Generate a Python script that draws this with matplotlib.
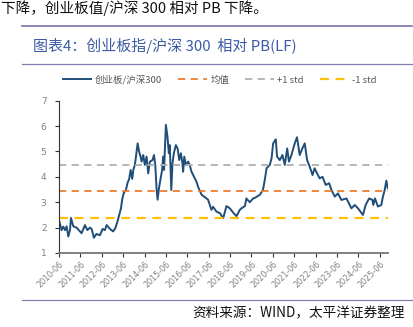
import matplotlib
matplotlib.use("Agg")
import matplotlib.pyplot as plt
import numpy as np
import pandas as pd

plt.rcParams['font.family'] = ['Noto Sans CJK SC', 'DejaVu Sans']

# 创业板指/沪深300 相对PB(LF)
dates = ['2010-06-01', '2010-07-15', '2010-08-12', '2010-09-12', '2010-10-10', '2010-11-06',
         '2010-12-06', '2010-12-22', '2011-02-01', '2011-03-28', '2011-05-25', '2011-06-22',
         '2011-08-18', '2011-09-28', '2011-11-12', '2011-12-10', '2012-01-18', '2012-03-01',
         '2012-05-01', '2012-06-15', '2012-07-25', '2012-08-22', '2012-10-18', '2012-12-10',
         '2013-01-12', '2013-02-15', '2013-03-18', '2013-04-25', '2013-05-15', '2013-06-12',
         '2013-07-18', '2013-08-15', '2013-09-12', '2013-10-06', '2013-11-03', '2013-11-21',
         '2013-12-18', '2014-01-06', '2014-02-03', '2014-03-01', '2014-03-25', '2014-04-12',
         '2014-05-10', '2014-06-06', '2014-07-06', '2014-08-03', '2014-09-01', '2014-10-15',
         '2014-11-10', '2014-12-01', '2014-12-25', '2015-01-10', '2015-02-06', '2015-03-01',
         '2015-03-28', '2015-04-15', '2015-05-01', '2015-06-01', '2015-06-28', '2015-07-21',
         '2015-08-06', '2015-09-01', '2015-09-21', '2015-10-15', '2015-11-18', '2015-12-18',
         '2016-01-15', '2016-02-12', '2016-03-10', '2016-03-21', '2016-04-10', '2016-05-06',
         '2016-06-15', '2016-07-12', '2016-08-12', '2016-10-10', '2016-11-06', '2016-12-03',
         '2017-02-01', '2017-03-28', '2017-05-21', '2017-07-18', '2017-08-15', '2017-10-12',
         '2017-12-10', '2018-02-03', '2018-04-01', '2018-05-28', '2018-07-21', '2018-09-18',
         '2018-11-15', '2018-12-12', '2019-02-10', '2019-03-06', '2019-05-03', '2019-07-01',
         '2019-07-28', '2019-10-21', '2019-12-15', '2020-01-15', '2020-02-15', '2020-04-10',
         '2020-05-10', '2020-06-06', '2020-07-21', '2020-08-12', '2020-09-28', '2020-11-12',
         '2020-12-22', '2021-02-01', '2021-03-03', '2021-04-15', '2021-06-10', '2021-07-18',
         '2021-09-03', '2021-10-18', '2021-11-28', '2022-01-06', '2022-02-21', '2022-04-10',
         '2022-05-15', '2022-06-25', '2022-08-10', '2022-09-28', '2022-11-21', '2023-01-18',
         '2023-02-28', '2023-04-25', '2023-06-18', '2023-08-15', '2023-11-10', '2024-01-06',
         '2024-02-03', '2024-04-01', '2024-05-25', '2024-08-18', '2024-10-03', '2024-12-01',
         '2025-01-28', '2025-02-10', '2025-03-12', '2025-05-01', '2025-06-28', '2025-07-25',
         '2025-08-25', '2025-09-21', '2025-10-18']
ratio = [2.30, 1.90, 2.04, 1.90, 2.05, 1.65,
         1.90, 2.38, 2.05, 2.00, 1.85, 1.78,
         2.10, 1.90, 2.00, 1.95, 1.60, 1.75,
         1.70, 1.95, 1.90, 2.10, 1.95, 1.85,
         1.95, 2.17, 2.43, 2.77, 3.10, 3.37,
         3.48, 3.76, 3.92, 4.27, 3.92, 4.27,
         4.47, 4.80, 5.32, 4.99, 4.80, 4.60,
         4.86, 4.47, 4.80, 4.14, 4.60, 4.66,
         4.86, 4.47, 3.48, 3.10, 3.60, 3.92,
         4.27, 4.80, 4.27, 6.05, 5.58, 4.93,
         5.25, 3.48, 4.53, 4.93, 5.25, 5.12,
         4.66, 4.93, 4.53, 4.20, 4.80, 4.47,
         4.60, 4.47, 4.20, 3.92, 3.80, 3.60,
         3.29, 3.20, 3.10, 2.70, 2.82, 2.63,
         2.57, 2.37, 2.85, 2.76, 2.60, 2.45,
         2.70, 2.76, 2.85, 3.15, 3.00, 3.15,
         3.17, 3.29, 3.48, 3.88, 4.34, 4.47,
         4.73, 5.32, 5.48, 4.80, 4.66, 4.86,
         4.47, 5.12, 4.60, 4.86, 5.32, 5.56,
         4.86, 5.12, 5.32, 4.67, 4.40, 4.07,
         4.34, 4.14, 3.94, 4.00, 3.68, 3.75,
         3.48, 3.22, 3.35, 3.09, 3.15, 2.89,
         2.76, 2.89, 2.76, 2.50, 2.89, 3.15,
         3.09, 2.89, 3.15, 2.83, 2.89, 3.22,
         3.48, 3.85, 3.55]
mean_val = 3.43
plus_std = 4.47
minus_std = 2.39

tick_labels = ['%d-06' % y for y in range(2010, 2026)]

x = pd.to_datetime(dates)

fig = plt.figure(figsize=(4.14, 3.27), dpi=100)

# 页面上方文字和标题
fig.text(0.002, 1 - 8 / 327, '下降，创业板值/沪深 300 相对 PB 下降。', fontsize=10.5,
         color='#111111', va='center', ha='left')
fig.add_artist(plt.Line2D([22 / 414, 412 / 414], [1 - 26 / 327, 1 - 26 / 327],
                          color='#8080b0', lw=1.3))
fig.text(33 / 414, 1 - 46 / 327, '图表4：创业板指/沪深 300  相对 PB(LF)', fontsize=10.8,
         color='#3b5ba5', va='center', ha='left')
fig.add_artist(plt.Line2D([22 / 414, 412 / 414], [1 - 64 / 327, 1 - 64 / 327],
                          color='#8080b0', lw=0.9))
fig.add_artist(plt.Line2D([22 / 414, 412 / 414], [1 - 300 / 327, 1 - 300 / 327],
                          color='#8080b0', lw=0.9))
fig.text(405 / 414, 1 - 313 / 327, '资料来源：WIND，太平洋证券整理', fontsize=9.8,
         color='#111111', va='center', ha='right', style='italic')

ax = fig.add_axes([59 / 414, 1 - 253 / 327, 329 / 414, 152.3 / 327])

ax.plot(x, ratio, color='#1f4e79', lw=1.4, label='创业板/沪深300')
ax.axhline(mean_val, color='#ed7d31', lw=1.3, ls=(0, (4, 3)), label='均值')
ax.axhline(plus_std, color='#b0b0b0', lw=1.3, ls=(0, (4, 3)), label='+1 std')
ax.axhline(minus_std, color='#ffc000', lw=1.6, ls=(0, (4, 3)), label='-1 std')

ax.set_ylim(1, 7)
ax.set_yticks(range(1, 8))
ax.set_xlim(pd.Timestamp('2010-06-01'), pd.Timestamp('2025-10-20'))
ticks = pd.to_datetime(['%d-06-01' % y for y in range(2010, 2026)])
ax.set_xticks(ticks)
ax.set_xticklabels(tick_labels, rotation=45, ha='right', rotation_mode='anchor',
                   fontsize=5.8, color='#808080', family='DejaVu Sans')
for lab in ax.get_yticklabels():
    lab.set_fontsize(6.5)
    lab.set_color('#808080')
    lab.set_family('DejaVu Sans')

ax.spines['top'].set_visible(False)
ax.spines['right'].set_visible(False)
ax.spines['left'].set_color('#333333')
ax.spines['left'].set_linewidth(0.8)
ax.spines['bottom'].set_color('#808080')
ax.spines['bottom'].set_linewidth(1.4)
ax.tick_params(axis='y', length=3, width=0.8, color='#333333', pad=6)
ax.tick_params(axis='x', length=3, width=0.8, color='#333333', pad=2)

ax.legend(loc='lower left', bbox_to_anchor=(0.0, 1.08), ncol=4, frameon=False,
          fontsize=6.8, labelcolor='#555555', handlelength=3.0, handletextpad=0.4,
          columnspacing=1.7, borderaxespad=0)

fig.savefig('out.png', dpi=100)
